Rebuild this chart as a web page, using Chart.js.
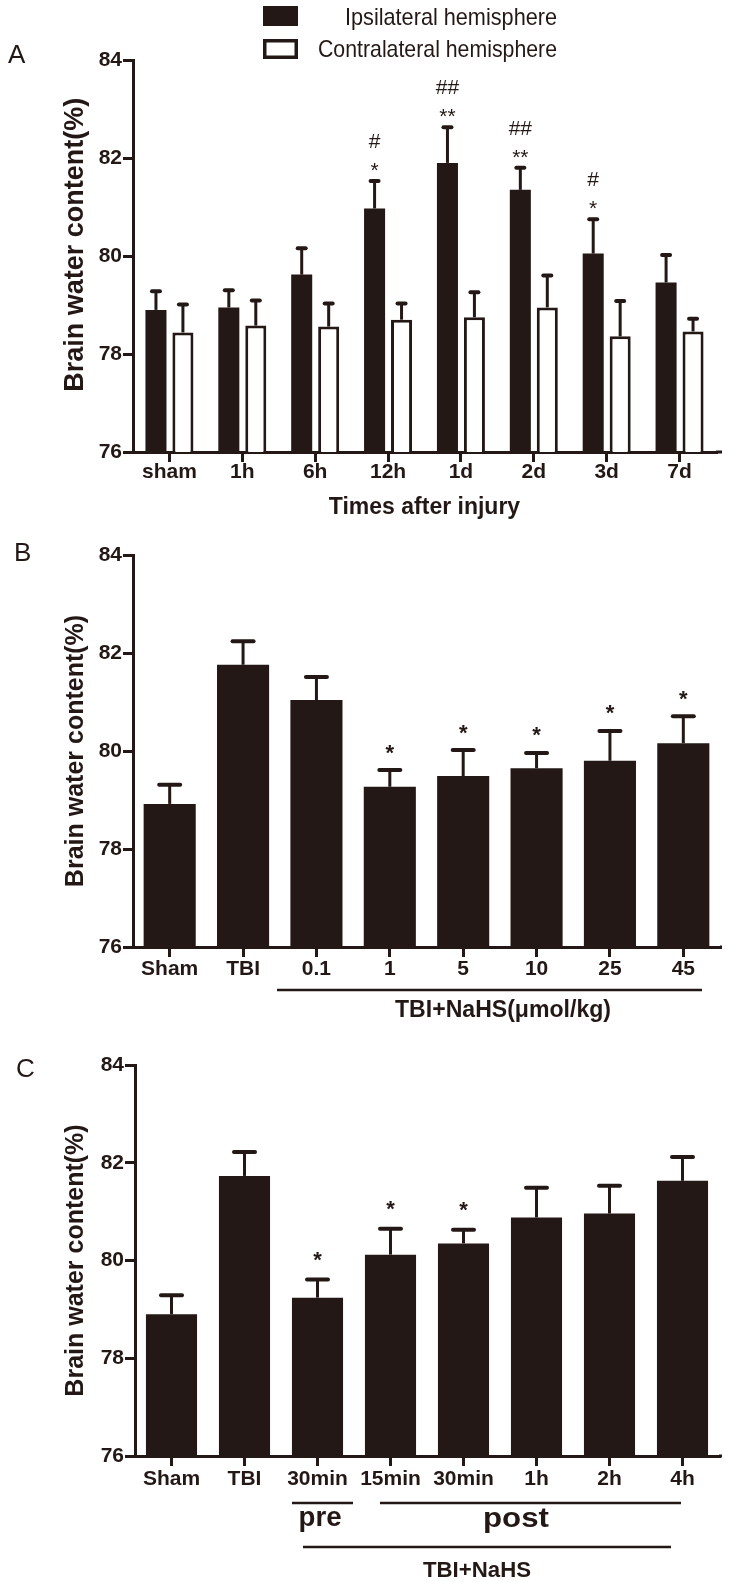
<!DOCTYPE html>
<html>
<head>
<meta charset="utf-8">
<script src="https://cdn.jsdelivr.net/npm/chart.js@4.4.1/dist/chart.umd.min.js"></script>
<style>
  html, body { margin: 0; padding: 0; background: #fff; }
  #wrap { position: relative; width: 729px; height: 1582px; }
  canvas { position: absolute; left: 0; }
</style>
</head>
<body>
<div id="wrap">
  <canvas id="panelA" width="729" height="530" style="top:0"></canvas>
  <canvas id="panelB" width="729" height="495" style="top:530px"></canvas>
  <canvas id="panelC" width="729" height="557" style="top:1025px"></canvas>
</div>
<script>
const INK = '#231815';
const FONT = "Arial, 'Liberation Sans', Helvetica, sans-serif";

// Panel A - time course, both hemispheres
const timeLabels = ['sham', '1h', '6h', '12h', '1d', '2d', '3d', '7d'];
const ipsiMean = [78.90, 78.95, 79.62, 80.97, 81.90, 81.35, 80.05, 79.46];
const ipsiSem = [0.38, 0.35, 0.54, 0.56, 0.73, 0.45, 0.70, 0.56];
const contraMean = [78.44, 78.58, 78.56, 78.70, 78.75, 78.95, 78.36, 78.46];
const contraSem = [0.57, 0.51, 0.47, 0.33, 0.51, 0.65, 0.72, 0.26];
const starsA = ['', '', '', '*', '**', '**', '*', ''];
const hashA = ['', '', '', '#', '##', '##', '#', ''];

// Panel B - NaHS dose
const doseLabels = ['Sham', 'TBI', '0.1', '1', '5', '10', '25', '45'];
const doseMean = [78.92, 81.76, 81.04, 79.27, 79.49, 79.65, 79.80, 80.16];
const doseSem = [0.39, 0.48, 0.47, 0.34, 0.53, 0.31, 0.61, 0.55];
const starsB = ['', '', '', '*', '*', '*', '*', '*'];

// Panel C - timing of NaHS
const timingLabels = ['Sham', 'TBI', '30min', '15min', '30min', '1h', '2h', '4h'];
const timingMean = [78.90, 81.73, 79.24, 80.12, 80.35, 80.88, 80.96, 81.63];
const timingSem = [0.39, 0.49, 0.37, 0.53, 0.28, 0.61, 0.57, 0.49];
const starsC = ['', '', '*', '*', '*', '', '', ''];

const yTicks = [76, 78, 80, 82, 84];

// text centred on (cx, cy) by its ink box, optionally squeezed to a width
function textAt(ctx, str, cx, cy, font, width) {
    ctx.save();
    ctx.font = font;
    ctx.fillStyle = INK;
    ctx.textAlign = 'left';
    ctx.textBaseline = 'alphabetic';
    const m = ctx.measureText(str);
    const w = width || m.width;
    const base = cy + (m.actualBoundingBoxAscent - m.actualBoundingBoxDescent) / 2;
    ctx.translate(cx - w / 2, base);
    ctx.scale(w / m.width, 1);
    ctx.fillText(str, 0, 0);
    ctx.restore();
}

function textLeft(ctx, str, x, baseline, font, width) {
    ctx.save();
    ctx.font = font;
    ctx.fillStyle = INK;
    ctx.textAlign = 'left';
    ctx.textBaseline = 'alphabetic';
    const m = ctx.measureText(str);
    ctx.translate(x, baseline);
    ctx.scale((width || m.width) / m.width, 1);
    ctx.fillText(str, 0, 0);
    ctx.restore();
}

function hLine(ctx, x1, x2, y, w) {
    ctx.save();
    ctx.strokeStyle = INK;
    ctx.lineWidth = w;
    ctx.beginPath();
    ctx.moveTo(x1, y);
    ctx.lineTo(x2, y);
    ctx.stroke();
    ctx.restore();
}

// upward SEM bars, drawn from the bar top through the y scale
const errorBarPlugin = {
    id: 'errorBars',
    afterDatasetsDraw(chart) {
        const { ctx } = chart;
        const y = chart.scales.y;
        const capHalf = chart.$capHalf;
        ctx.save();
        ctx.strokeStyle = INK;
        chart.data.datasets.forEach((ds, i) => {
            chart.getDatasetMeta(i).data.forEach((bar, j) => {
                const top = y.getPixelForValue(ds.data[j] + ds.sem[j]);
                ctx.lineWidth = 3;
                ctx.lineCap = 'butt';
                ctx.beginPath();
                ctx.moveTo(bar.x, bar.y);
                ctx.lineTo(bar.x, top);
                ctx.stroke();
                ctx.lineWidth = 4;
                ctx.lineCap = 'round';
                ctx.beginPath();
                ctx.moveTo(bar.x - capHalf, top);
                ctx.lineTo(bar.x + capHalf, top);
                ctx.stroke();
            });
        });
        ctx.restore();
    }
};

// the x axis runs a little past the last category
const axisTailPlugin = {
    id: 'axisTail',
    afterDraw(chart) {
        const a = chart.chartArea;
        hLine(chart.ctx, a.right, 722, a.bottom, 3);
    }
};

function capTop(chart, ds, j) {
    const d = chart.data.datasets[ds];
    return chart.scales.y.getPixelForValue(d.data[j] + d.sem[j]);
}

function makePanel(id, cfg) {
    const chart = new Chart(document.getElementById(id), {
        type: 'bar',
        data: {
            labels: cfg.labels,
            datasets: cfg.series.map(s => ({
                data: s.mean,
                sem: s.sem,
                backgroundColor: s.fill,
                borderColor: INK,
                borderWidth: s.border,
                borderSkipped: false,
                barPercentage: cfg.barPct,
                categoryPercentage: cfg.catPct
            }))
        },
        options: {
            responsive: false,
            animation: false,
            events: [],
            layout: { padding: { top: cfg.top, right: cfg.right, left: 0, bottom: 0 } },
            plugins: {
                legend: { display: false },
                tooltip: { enabled: false }
            },
            scales: {
                x: {
                    grid: { display: true, drawOnChartArea: false, offset: false, tickLength: 10, lineWidth: 3, color: INK },
                    border: { display: true, width: 3, color: INK },
                    ticks: {
                        color: INK, padding: cfg.xPad, maxRotation: 0, autoSkip: false,
                        font: { family: FONT, size: 21, weight: 'bold', lineHeight: 1 }
                    },
                    title: cfg.xTitle ? {
                        display: true, text: cfg.xTitle, color: INK,
                        font: { family: FONT, size: 23, weight: 'bold' },
                        padding: { top: 0, bottom: 9 }
                    } : { display: false },
                    afterFit: a => { a.height = cfg.xHeight; }
                },
                y: {
                    min: 76,
                    max: 84,
                    afterBuildTicks: a => { a.ticks = yTicks.map(v => ({ value: v })); },
                    grid: { display: true, drawOnChartArea: false, tickLength: 10, lineWidth: 3, color: INK },
                    border: { display: true, width: 3, color: INK },
                    ticks: {
                        color: INK, padding: 1,
                        font: { family: FONT, size: 21, weight: 'bold' }
                    },
                    title: {
                        display: true, text: cfg.yTitle, color: INK,
                        font: { family: FONT, size: cfg.yTitleSize, weight: 'bold' },
                        padding: { top: 76 - cfg.yTitleSize * 0.6, bottom: 0 }
                    },
                    afterFit: a => { a.width = cfg.yWidth; }
                }
            }
        },
        plugins: [errorBarPlugin, axisTailPlugin, { id: 'decor', afterDraw: c => cfg.decorate(c) }]
    });
    return chart;
}

// ---------- Panel A ----------
const chartA = makePanel('panelA', {
    labels: timeLabels,
    series: [
        { mean: ipsiMean, sem: ipsiSem, fill: INK, border: 0 },
        { mean: contraMean, sem: contraSem, fill: '#ffffff', border: 3 }
    ],
    barPct: 0.78, catPct: 0.74,
    top: 60, right: 13, yWidth: 133, xHeight: 78, xPad: 0,
    xTitle: 'Times after injury',
    yTitle: '   Brain water content(%)', yTitleSize: 27,
    decorate(c) {
        const ctx = c.ctx;
        textLeft(ctx, 'A', 8, 63, '26px ' + FONT);
        // legend
        ctx.save();
        ctx.fillStyle = INK;
        ctx.fillRect(263, 6, 35, 20);
        ctx.strokeStyle = INK;
        ctx.lineWidth = 3.5;
        ctx.strokeRect(264.75, 40.75, 31.5, 16.5);
        ctx.restore();
        textLeft(ctx, 'Ipsilateral hemisphere', 345, 25, '24px ' + FONT, 212);
        textLeft(ctx, 'Contralateral hemisphere', 318, 57, '24px ' + FONT, 239);
        // significance marks over the ipsilateral bars
        const bars = c.getDatasetMeta(0).data;
        timeLabels.forEach((_, j) => {
            const top = capTop(c, 0, j);
            if (starsA[j]) textAt(ctx, starsA[j], bars[j].x, top - 14, '21px ' + FONT);
            if (hashA[j]) textAt(ctx, hashA[j], bars[j].x, top - 40, '21px ' + FONT);
        });
    }
});
chartA.$capHalf = 4;
chartA.draw();

// ---------- Panel B ----------
const chartB = makePanel('panelB', {
    labels: doseLabels,
    series: [{ mean: doseMean, sem: doseSem, fill: INK, border: 0 }],
    barPct: 0.71, catPct: 1,
    top: 25, right: 9, yWidth: 133, xHeight: 78, xPad: 2,
    yTitle: 'Brain water content(%)', yTitleSize: 25,
    decorate(c) {
        const ctx = c.ctx;
        textLeft(ctx, 'B', 14, 31, '26px ' + FONT);
        const bars = c.getDatasetMeta(0).data;
        doseLabels.forEach((_, j) => {
            if (starsB[j]) textAt(ctx, starsB[j], bars[j].x, capTop(c, 0, j) - 21, 'bold 22px ' + FONT);
        });
        hLine(ctx, 277, 702, 460, 2.5);
        textAt(ctx, 'TBI+NaHS(μmol/kg)', 503, 480, 'bold 23px ' + FONT, 216);
    }
});
chartB.$capHalf = 10.5;
chartB.draw();

// ---------- Panel C ----------
const chartC = makePanel('panelC', {
    labels: timingLabels,
    series: [{ mean: timingMean, sem: timingSem, fill: INK, border: 0 }],
    barPct: 0.70, catPct: 1,
    top: 40, right: 10, yWidth: 135, xHeight: 126, xPad: 3,
    yTitle: 'Brain water content(%)', yTitleSize: 25,
    decorate(c) {
        const ctx = c.ctx;
        textLeft(ctx, 'C', 16, 52, '26px ' + FONT);
        const bars = c.getDatasetMeta(0).data;
        timingLabels.forEach((_, j) => {
            if (starsC[j]) textAt(ctx, starsC[j], bars[j].x, capTop(c, 0, j) - 23, 'bold 22px ' + FONT);
        });
        hLine(ctx, 292, 353, 478, 2.5);
        hLine(ctx, 380, 681, 478, 2.5);
        hLine(ctx, 303, 671, 522, 2.5);
        textAt(ctx, 'pre', 320, 496, 'bold 28px ' + FONT, 43);
        textAt(ctx, 'post', 516, 495, 'bold 28px ' + FONT, 66);
        textAt(ctx, 'TBI+NaHS', 477, 544, 'bold 22px ' + FONT, 108);
    }
});
chartC.$capHalf = 10.5;
chartC.draw();
</script>
</body>
</html>
